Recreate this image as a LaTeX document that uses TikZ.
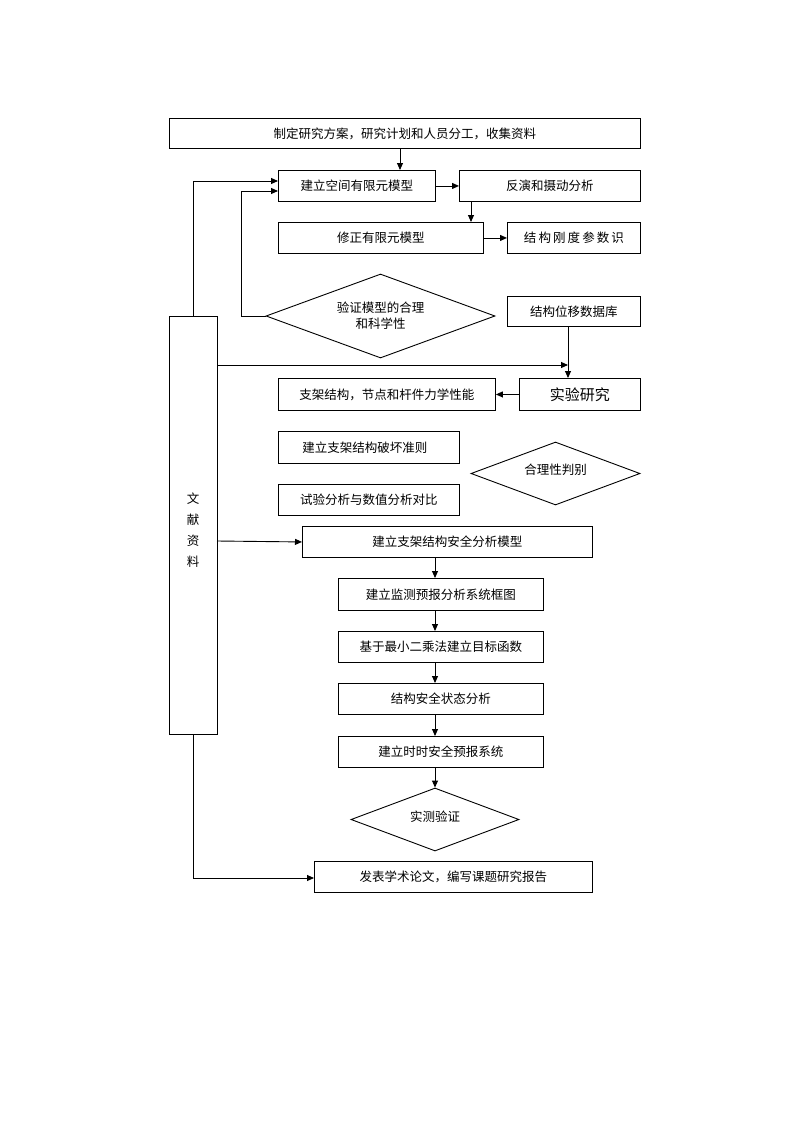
\documentclass[tikz,border=0pt]{standalone}
\usepackage{fontspec}
\setmainfont{Noto Sans CJK SC}
\usetikzlibrary{shapes.geometric,arrows.meta}
\begin{document}
\begin{tikzpicture}[x=1pt,y=-1pt,
  bx/.style={draw,line width=0.9pt,font=\fontsize{12.5}{14}\selectfont,inner sep=0pt,anchor=north west},
  dm/.style={draw,line width=0.9pt,diamond,font=\fontsize{12.5}{16}\selectfont,align=center,inner sep=0pt},
  ar/.style={-{Triangle[length=7pt,width=6pt]},line width=0.9pt},
  ln/.style={line width=0.9pt}]
\useasboundingbox (0,0) rectangle (800,1129);
\newcommand\B[6]{\node[bx,minimum width=#4-#2,minimum height=#5-#3] (#1) at (#2,#3) {#6};}
\B{top}{169}{118}{640}{148}{制定研究方案，研究计划和人员分工，收集资料}
\B{b1}{278}{170}{435}{201}{建立空间有限元模型}
\B{b2}{459}{170}{640}{201}{反演和摄动分析}
\B{b3}{278}{222}{483}{253}{修正有限元模型}
\B{b4}{507}{222}{640}{253}{结\,构\,刚\,度\,参\,数\,识}
\B{b5}{507}{296}{640}{326}{结构位移数据库}
\B{lit}{169}{316}{217}{734}{}
\node[font=\fontsize{12.5}{21}\selectfont,align=center] (littext) at (193,530) {文\\献\\资\\料};
\B{b6}{519}{378}{640}{410}{\fontsize{15}{16}\selectfont 实验研究}
\B{b7}{278}{378}{495}{410}{支架结构，节点和杆件力学性能}
\B{b8}{278}{431}{459}{463}{\hspace*{-8pt}建立支架结构破坏准则}
\B{b9}{278}{484}{459}{515}{试验分析与数值分析对比}
\B{b10}{302}{526}{592}{557}{建立支架结构安全分析模型}
\B{b11}{338}{578}{543}{610}{建立监测预报分析系统框图}
\B{b12}{338}{631}{543}{662}{基于最小二乘法建立目标函数}
\B{b13}{338}{683}{543}{714}{结构安全状态分析}
\B{b14}{338}{736}{543}{767}{建立时时安全预报系统}
\B{b15}{314}{861}{592}{892}{发表学术论文，编写课题研究报告}
\node[dm,minimum width=229pt,minimum height=84pt,aspect=2.7] (d1) at (380.5,316) {};
\node[font=\fontsize{12.5}{16}\selectfont,align=center] (d1t) at (380.5,316) {验证模型的合理\\和科学性};
\node[dm,minimum width=169pt,minimum height=63pt,aspect=2.7] (d2) at (555.5,473.5) {};
\node[font=\fontsize{12.5}{16}\selectfont] (d2t) at (555.5,470) {合理性判别};
\node[dm,minimum width=168pt,minimum height=63pt,aspect=2.7] (d3) at (435,819.5) {};
\node[font=\fontsize{12.5}{16}\selectfont] (d3t) at (435,817) {实测验证};
\coordinate (t1) at (400,148);
\draw[ar] (t1) -- (t1|-b1.north);
\draw[ar] (b1.east) -- (b2.west);
\coordinate (t2) at (471,201);
\draw[ar] (t2) -- (t2|-b3.north);
\draw[ar] (b3.east) -- (b4.west);
\coordinate (l1) at (193,316);
\coordinate (l2) at (193,181);
\draw[ar] (l1) -- (l2) -- (l2-|b1.west);
\coordinate (v1) at (241,316);
\coordinate (v2) at (241,191);
\draw[ar] (d1.west) -- (v1) -- (v2) -- (v2-|b1.west);
\coordinate (h1) at (217,365);
\coordinate (h2) at (568,365);
\draw[ar] (h1) -- (h2);
\draw[ar] (b5.south-|h2) -- (h2|-b6.north);
\draw[ar] (b6.west) -- (b7.east);
\coordinate (h3) at (217,541);
\draw[ar] (h3) -- (b10.west);
\coordinate (c1) at (435,557);
\draw[ar] (c1) -- (c1|-b11.north);
\draw[ar] (b11.south-|c1) -- (c1|-b12.north);
\draw[ar] (b12.south-|c1) -- (c1|-b13.north);
\draw[ar] (b13.south-|c1) -- (c1|-b14.north);
\draw[ar] (b14.south-|c1) -- (d3.north);
\coordinate (l3) at (193,734);
\coordinate (l4) at (193,878);
\draw[ar] (l3) -- (l4) -- (l4-|b15.west);
\end{tikzpicture}
\end{document}
